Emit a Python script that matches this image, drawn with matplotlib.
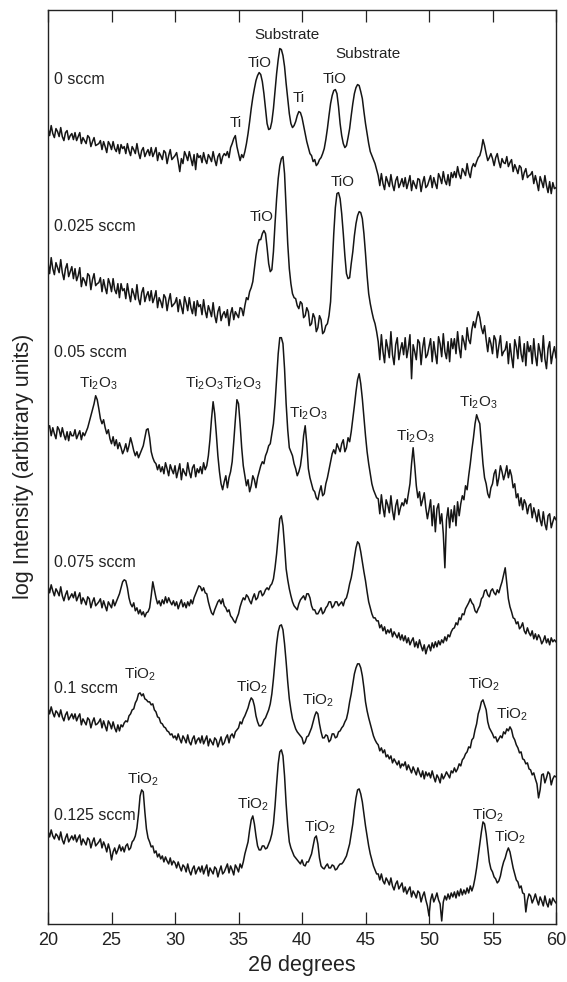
import numpy as np
import matplotlib
matplotlib.use("Agg")
import matplotlib.pyplot as plt

plt.rcParams["font.family"] = ["Liberation Sans", "DejaVu Sans"]
plt.rcParams["mathtext.default"] = "regular"

# 2-theta grid of the scans (degrees)
two_theta = np.arange(20.0, 60.001, 0.125)

# log intensity, arbitrary units, already stacked
i_0 = [
    795, 788, 798, 790, 786, 795, 792, 787, 796, 787, 783, 791, 793, 784, 788, 790,
    784, 791, 783, 787, 791, 780, 786, 783, 780, 788, 786, 777, 782, 786, 778, 779,
    780, 783, 774, 782, 777, 771, 782, 779, 774, 782, 775, 772, 779, 770, 779, 775,
    777, 770, 780, 773, 768, 777, 774, 770, 780, 771, 765, 773, 776, 767, 771, 774,
    768, 776, 767, 771, 776, 763, 771, 768, 764, 773, 771, 760, 768, 774, 764, 766,
    768, 771, 762, 752, 765, 760, 772, 768, 763, 772, 765, 758, 769, 754, 770, 766,
    768, 761, 771, 764, 760, 769, 766, 762, 772, 764, 758, 767, 770, 760, 767, 770,
    768, 772, 766, 776, 780, 785, 788, 777, 770, 763, 769, 766, 772, 780, 790, 802,
    815, 826, 835, 843, 848, 851, 849, 842, 830, 815, 800, 794, 795, 802, 815, 832,
    850, 864, 875, 874, 868, 857, 840, 825, 810, 800, 796, 798, 802, 808, 812, 811,
    806, 798, 790, 782, 776, 770, 768, 762, 764, 758, 760, 764, 766, 770, 775, 784,
    795, 808, 820, 828, 833, 834, 830, 817, 800, 788, 780, 776, 778, 786, 795, 808,
    820, 830, 836, 839, 838, 832, 825, 812, 800, 790, 780, 772, 768, 764, 760, 754,
    748, 738, 750, 740, 734, 747, 742, 737, 749, 739, 733, 743, 747, 736, 740, 745,
    737, 746, 735, 741, 748, 733, 743, 739, 735, 745, 744, 732, 741, 747, 736, 738,
    743, 748, 736, 746, 740, 735, 750, 746, 740, 752, 743, 739, 749, 738, 751, 746,
    752, 746, 757, 749, 745, 755, 752, 748, 760, 751, 746, 756, 760, 757, 762, 766,
    768, 774, 784, 778, 770, 763, 766, 770, 765, 758, 766, 770, 762, 756, 765, 761,
    760, 767, 757, 761, 764, 752, 759, 755, 750, 758, 756, 744, 751, 755, 746, 748,
    749, 752, 740, 748, 741, 733, 747, 742, 736, 748, 738, 731, 742, 730, 741, 735,
    736,
]
i_025 = [
    661, 650, 666, 655, 649, 661, 656, 651, 664, 651, 644, 655, 660, 647, 652, 657,
    645, 655, 643, 648, 656, 637, 646, 643, 638, 650, 648, 634, 644, 650, 638, 640,
    641, 646, 632, 644, 636, 630, 645, 640, 632, 645, 634, 630, 640, 626, 640, 633,
    635, 625, 640, 630, 622, 635, 630, 624, 639, 625, 619, 631, 636, 622, 628, 632,
    623, 633, 621, 626, 633, 616, 626, 622, 616, 629, 626, 613, 623, 630, 617, 619,
    621, 626, 612, 624, 617, 610, 627, 621, 613, 626, 616, 610, 622, 608, 623, 617,
    619, 609, 624, 613, 606, 618, 613, 607, 621, 608, 601, 612, 617, 603, 609, 612,
    606, 614, 598, 610, 616, 604, 612, 609, 606, 616, 615, 608, 618, 626, 624, 632,
    636, 642, 655, 668, 678, 684, 684, 690, 693, 690, 676, 660, 652, 654, 672, 700,
    725, 745, 758, 765, 767, 750, 715, 680, 655, 640, 630, 626, 625, 618, 615, 622,
    620, 606, 608, 616, 612, 598, 600, 610, 606, 592, 596, 608, 604, 590, 592, 598,
    600, 608, 622, 655, 690, 716, 730, 731, 725, 710, 690, 668, 650, 645, 646, 660,
    672, 688, 700, 708, 712, 711, 705, 690, 670, 648, 630, 620, 612, 605, 600, 592,
    582, 564, 589, 572, 561, 584, 576, 566, 592, 569, 559, 579, 586, 564, 574, 581,
    569, 586, 566, 576, 589, 545, 579, 572, 564, 584, 581, 559, 576, 586, 566, 569,
    577, 585, 562, 582, 570, 560, 587, 580, 567, 590, 572, 565, 582, 562, 585, 575,
    585, 570, 592, 576, 566, 588, 582, 574, 596, 584, 580, 594, 602, 596, 605, 612,
    606, 596, 590, 598, 584, 572, 586, 580, 570, 588, 584, 566, 578, 588, 568, 572,
    574, 582, 560, 580, 567, 556, 584, 577, 565, 587, 570, 562, 580, 558, 582, 572,
    578, 560, 585, 568, 558, 580, 572, 562, 588, 565, 555, 575, 582, 560, 570, 577,
    566,
]
i_05 = [
    495, 498, 488, 496, 490, 485, 497, 494, 487, 496, 489, 484, 492, 483, 492, 488,
    488, 494, 485, 489, 493, 484, 491, 488, 492, 496, 502, 508, 514, 520, 528, 524,
    515, 505, 500, 504, 496, 490, 494, 485, 480, 487, 478, 484, 475, 481, 476, 470,
    474, 480, 472, 478, 486, 480, 473, 468, 472, 466, 470, 474, 478, 486, 494, 495,
    486, 472, 466, 462, 460, 454, 459, 452, 457, 450, 461, 455, 448, 459, 454, 450,
    458, 446, 453, 460, 444, 455, 451, 448, 461, 452, 446, 456, 459, 447, 455, 451,
    457, 450, 461, 454, 458, 468, 484, 505, 522, 510, 490, 468, 452, 440, 434, 442,
    448, 436, 446, 452, 462, 482, 504, 524, 520, 500, 476, 458, 448, 438, 444, 432,
    438, 448, 444, 436, 446, 452, 458, 462, 460, 468, 472, 478, 480, 490, 500, 520,
    545, 570, 586, 586, 580, 555, 520, 494, 476, 472, 468, 460, 455, 448, 452, 458,
    470, 488, 498, 480, 455, 446, 440, 434, 432, 426, 424, 432, 438, 428, 430, 440,
    446, 454, 462, 470, 474, 470, 480, 476, 472, 480, 484, 472, 476, 486, 482, 492,
    505, 518, 532, 544, 550, 540, 525, 506, 488, 472, 460, 450, 440, 434, 430, 426,
    425, 410, 429, 416, 407, 424, 419, 411, 428, 413, 404, 418, 424, 409, 416, 421,
    418, 425, 420, 430, 440, 460, 476, 458, 438, 426, 432, 418, 424, 431, 416, 405,
    414, 424, 398, 418, 392, 415, 420, 400, 410, 390, 356, 404, 416, 396, 414, 402,
    418, 398, 422, 408, 420, 428, 424, 438, 434, 448, 460, 474, 486, 500, 509, 504,
    500, 480, 460, 446, 440, 430, 426, 436, 440, 450, 454, 438, 446, 458, 452, 444,
    450, 458, 446, 454, 448, 436, 440, 426, 430, 418, 426, 414, 424, 420, 410, 418,
    420, 406, 416, 410, 402, 414, 404, 398, 412, 400, 394, 408, 410, 396, 402, 407,
    404,
]
i_075 = [
    338, 331, 339, 333, 328, 335, 332, 328, 337, 328, 323, 329, 333, 324, 327, 330,
    326, 332, 323, 327, 331, 320, 326, 323, 319, 327, 325, 316, 322, 326, 318, 320,
    322, 325, 316, 323, 318, 313, 322, 319, 316, 324, 318, 322, 326, 330, 336, 342,
    344, 343, 336, 326, 320, 317, 321, 313, 316, 310, 314, 309, 312, 307, 311, 312,
    316, 328, 342, 334, 326, 320, 323, 318, 324, 320, 327, 321, 326, 322, 319, 323,
    318, 322, 315, 320, 324, 317, 321, 316, 322, 318, 324, 320, 326, 330, 334, 338,
    337, 333, 336, 331, 330, 322, 316, 311, 309, 314, 318, 322, 324, 320, 325, 318,
    316, 312, 314, 308, 306, 303, 301, 306, 310, 317, 322, 326, 324, 329, 327, 323,
    320, 326, 330, 324, 326, 332, 333, 328, 330, 334, 336, 334, 338, 340, 345, 356,
    370, 388, 405, 408, 398, 378, 355, 344, 335, 328, 322, 318, 316, 314, 320, 324,
    326, 328, 324, 330, 330, 326, 318, 314, 314, 310, 310, 313, 316, 310, 312, 316,
    318, 322, 322, 316, 318, 322, 322, 318, 320, 322, 318, 324, 326, 332, 340, 346,
    355, 366, 376, 382, 380, 372, 362, 352, 343, 332, 322, 316, 310, 306, 306, 303,
    303, 296, 299, 293, 297, 290, 294, 291, 295, 287, 292, 289, 286, 291, 284, 289,
    283, 288, 281, 286, 279, 283, 286, 277, 282, 276, 284, 278, 273, 279, 270, 276,
    279, 273, 281, 276, 282, 277, 283, 279, 284, 281, 287, 283, 289, 287, 292, 295,
    296, 301, 299, 306, 304, 310, 309, 315, 318, 321, 325, 321, 319, 313, 311, 315,
    318, 325, 327, 333, 334, 329, 327, 333, 335, 331, 329, 334, 331, 337, 342, 349,
    356, 340, 325, 317, 312, 306, 305, 300, 302, 295, 297, 301, 293, 290, 296, 291,
    288, 293, 285, 290, 284, 289, 286, 280, 283, 288, 281, 285, 279, 286, 282, 284,
    282,
]
i_1 = [
    216, 210, 217, 211, 207, 213, 211, 207, 214, 207, 203, 209, 212, 204, 207, 210,
    205, 210, 203, 207, 210, 199, 205, 202, 199, 206, 204, 196, 202, 206, 199, 200,
    202, 205, 196, 203, 198, 193, 203, 200, 195, 202, 196, 192, 199, 193, 199, 197,
    201, 203, 202, 208, 210, 214, 215, 221, 224, 230, 231, 228, 230, 225, 224, 222,
    222, 219, 220, 214, 212, 207, 206, 201, 200, 197, 196, 193, 192, 189, 190, 186,
    188, 184, 190, 185, 181, 188, 185, 181, 189, 182, 179, 185, 188, 180, 184, 186,
    181, 188, 180, 184, 188, 178, 185, 182, 179, 186, 184, 177, 182, 187, 179, 181,
    186, 189, 181, 188, 190, 186, 192, 194, 196, 202, 200, 205, 208, 212, 216, 222,
    226, 224, 218, 208, 202, 198, 198, 200, 204, 206, 210, 214, 220, 230, 245, 262,
    280, 292, 298, 299, 294, 280, 262, 242, 225, 214, 205, 200, 195, 192, 190, 188,
    186, 180, 182, 187, 188, 192, 196, 202, 208, 212, 210, 200, 192, 186, 186, 189,
    188, 182, 184, 190, 190, 186, 187, 192, 193, 196, 198, 202, 205, 212, 222, 230,
    240, 250, 256, 260, 260, 256, 248, 236, 222, 213, 206, 200, 194, 188, 184, 181,
    179, 173, 176, 171, 174, 167, 169, 165, 168, 161, 165, 162, 159, 163, 156, 160,
    158, 162, 154, 159, 155, 151, 157, 153, 149, 156, 151, 147, 153, 145, 152, 148,
    151, 146, 153, 147, 142, 149, 146, 141, 150, 145, 148, 152, 149, 146, 153, 151,
    156, 152, 155, 160, 158, 164, 166, 170, 172, 177, 176, 184, 186, 194, 200, 210,
    215, 222, 224, 219, 214, 202, 196, 193, 190, 186, 187, 182, 185, 188, 186, 192,
    190, 195, 193, 197, 194, 187, 184, 179, 176, 171, 172, 165, 164, 160, 161, 155,
    154, 149, 151, 145, 140, 126, 134, 149, 150, 141, 146, 152, 150, 139, 145, 148,
    147,
]
i_125 = [
    93, 87, 94, 88, 85, 90, 88, 84, 92, 84, 80, 86, 90, 82, 85, 88,
    84, 89, 82, 86, 89, 79, 85, 82, 79, 86, 84, 76, 82, 86, 78, 80,
    82, 85, 76, 82, 78, 72, 80, 74, 64, 72, 76, 70, 74, 79, 73, 77,
    72, 78, 80, 74, 76, 82, 84, 88, 96, 110, 128, 134, 132, 112, 95, 86,
    82, 77, 78, 71, 73, 67, 70, 65, 68, 62, 67, 63, 60, 66, 59, 63,
    61, 56, 62, 57, 53, 59, 57, 52, 60, 53, 49, 55, 58, 50, 54, 57,
    52, 58, 50, 55, 59, 48, 56, 53, 50, 57, 55, 47, 53, 58, 50, 52,
    56, 60, 51, 58, 54, 49, 59, 56, 52, 60, 56, 62, 70, 76, 82, 94,
    104, 108, 100, 88, 78, 74, 74, 78, 78, 75, 76, 80, 84, 90, 100, 118,
    140, 160, 172, 174, 168, 148, 120, 98, 82, 76, 72, 68, 66, 64, 62, 60,
    64, 59, 58, 62, 62, 66, 70, 78, 86, 88, 80, 66, 58, 56, 55, 58,
    60, 56, 56, 59, 58, 54, 55, 58, 60, 60, 62, 65, 68, 74, 80, 90,
    100, 114, 126, 134, 135, 130, 122, 110, 98, 88, 78, 70, 64, 58, 54, 50,
    50, 44, 50, 43, 40, 46, 43, 39, 46, 38, 34, 40, 43, 35, 38, 41,
    32, 37, 30, 34, 37, 27, 33, 30, 26, 33, 31, 22, 28, 32, 24, 18,
    8, 24, 30, 22, 26, 31, 24, 20, 3, 22, 28, 24, 30, 25, 31, 27,
    32, 26, 33, 28, 35, 29, 34, 30, 36, 31, 38, 33, 38, 46, 56, 68,
    80, 92, 102, 100, 90, 76, 62, 55, 52, 47, 45, 41, 43, 48, 56, 62,
    66, 72, 76, 72, 64, 56, 50, 44, 42, 36, 38, 31, 30, 12, 24, 30,
    28, 21, 25, 30, 24, 19, 27, 23, 18, 28, 21, 17, 25, 19, 26, 23,
    21,
]

series = [i_0, i_025, i_05, i_075, i_1, i_125]
sample_labels = ["0 sccm", "0.025 sccm", "0.05 sccm", "0.075 sccm", "0.1 sccm", "0.125 sccm"]
label_y = [844, 697, 571, 361, 235, 108]

TI2O3 = "Ti$_2$O$_3$"
TIO2 = "TiO$_2$"
peak_text = ["Ti", "TiO", "Substrate", "Ti", "TiO", "Substrate",
             "TiO", "TiO",
             TI2O3, TI2O3, TI2O3, TI2O3, TI2O3, TI2O3,
             TIO2, TIO2, TIO2, TIO2, TIO2,
             TIO2, TIO2, TIO2, TIO2, TIO2]
peak_x = [34.8, 36.7, 38.8, 39.75, 42.6, 45.2,
          36.85, 43.2,
          23.95, 32.3, 35.3, 40.5, 48.9, 53.9,
          27.25, 36.05, 41.3, 54.3, 56.55,
          27.45, 36.15, 41.4, 54.65, 56.4]
peak_y = [801, 861, 889, 826, 845, 870,
          707, 742,
          540, 540, 540, 510, 487, 521,
          250, 237, 224, 240, 210,
          145, 120, 97, 109, 87]

fig = plt.figure(figsize=(5.67, 9.82), dpi=100)
ax = fig.add_axes([0.0847, 0.0591, 0.8959, 0.9312])

for vals in series:
    ax.plot(two_theta, vals, color="#151515", linewidth=1.1)

for text, y in zip(sample_labels, label_y):
    ax.text(20.5, y, text, fontsize=11.5, va="center", ha="left", color="#222222")

for text, x, y in zip(peak_text, peak_x, peak_y):
    ax.text(x, y, text, fontsize=11, va="center", ha="center", color="#222222")

ax.set_xlim(20, 60)
ax.set_ylim(0, 914)
ax.set_xticks(np.arange(20, 61, 5))
ax.set_yticks([])
ax.tick_params(axis="x", direction="in", top=True, length=8.5, width=0.9,
               labelsize=13, pad=6, colors="#222222")
for sp in ax.spines.values():
    sp.set_linewidth(1.0)
    sp.set_color("#222222")

ax.set_xlabel("2θ degrees", fontsize=15.5, labelpad=4, color="#222222")
ax.set_ylabel("log Intensity (arbitrary units)", fontsize=15.5, labelpad=10, color="#222222")

fig.savefig("out.png", dpi=100, facecolor="white")
plt.close(fig)
